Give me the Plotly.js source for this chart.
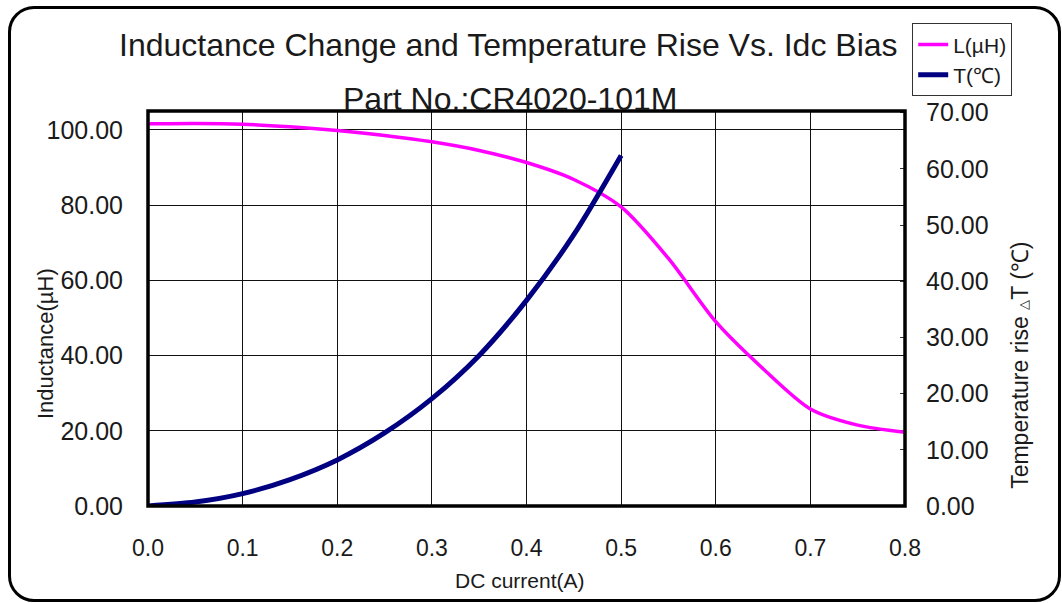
<!DOCTYPE html>
<html>
<head>
<meta charset="utf-8">
<script src="https://cdn.plot.ly/plotly-3.0.1.min.js"></script>
<style>
  html, body { margin: 0; padding: 0; background: #fff; }
  #wrap { position: relative; width: 1062px; height: 603px; overflow: hidden; }
  #frame { position: absolute; left: 8px; top: 6px; width: 1047px; height: 590px;
           border: 3.5px solid #000; border-radius: 26px; box-sizing: content-box; }
  #chart { position: absolute; left: 0; top: 0; width: 1062px; height: 603px; }
</style>
</head>
<body>
<div id="wrap">
  <div id="frame"></div>
  <div id="chart"></div>
</div>
<script>
// Data
const currentL = [0, 0.05, 0.1, 0.15, 0.2, 0.25, 0.3, 0.35, 0.4, 0.45, 0.5, 0.55, 0.6, 0.65, 0.7, 0.75, 0.8];
const inductance = [101.6, 101.7, 101.5, 100.8, 99.8, 98.5, 96.8, 94.5, 91.3, 86.8, 79.5, 65.8, 49.0, 36.5, 25.8, 21.5, 19.6];

const currentT = [0, 0.05, 0.1, 0.15, 0.2, 0.25, 0.3, 0.35, 0.4, 0.45, 0.5];
const tempRise = [0, 0.7, 2.2, 4.7, 8.2, 13.0, 19.1, 26.8, 36.6, 48.3, 62.4];

const xTicks = [0, 0.1, 0.2, 0.3, 0.4, 0.5, 0.6, 0.7, 0.8];
const yLeftTicks = [0, 20, 40, 60, 80, 100];
const yRightTicks = [0, 10, 20, 30, 40, 50, 60, 70];

const FONT = 'Liberation Sans, Arial, sans-serif';
const TXT = '#1a1a1a';

const traces = [
  {
    x: currentL, y: inductance, name: 'L(µH)', type: 'scatter', mode: 'lines',
    line: {color: '#ff00ff', width: 3.5, shape: 'spline', smoothing: 0.8},
    yaxis: 'y', hoverinfo: 'x+y'
  },
  {
    x: currentT, y: tempRise, name: 'T(℃)', type: 'scatter', mode: 'lines',
    line: {color: '#000080', width: 5, shape: 'spline', smoothing: 0.8},
    yaxis: 'y2', hoverinfo: 'x+y'
  }
];

const layout = {
  width: 1062, height: 603,
  margin: {l: 148, r: 157, t: 111, b: 97, pad: 0},
  paper_bgcolor: 'rgba(0,0,0,0)',
  plot_bgcolor: '#fff',
  font: {family: FONT, color: TXT},
  showlegend: true,
  legend: {
    x: 1.0095, y: 1.222, xanchor: 'left', yanchor: 'top',
    bgcolor: '#fff', bordercolor: '#333', borderwidth: 1,
    font: {family: FONT, size: 21, color: TXT},
    tracegroupgap: 0, itemwidth: 30
  },
  xaxis: {
    range: [0, 0.8], tickvals: xTicks, ticktext: xTicks.map(v => v.toFixed(1)),
    showgrid: true, gridcolor: '#111', gridwidth: 1,
    zeroline: false, showline: false, ticks: '',
    tickfont: {family: FONT, size: 23, color: TXT},
    ticklabelstandoff: 26, fixedrange: true
  },
  yaxis: {
    range: [0, 105], tickvals: yLeftTicks, ticktext: yLeftTicks.map(v => v.toFixed(2)),
    showgrid: true, gridcolor: '#111', gridwidth: 1,
    zeroline: false, showline: false, ticks: '',
    tickfont: {family: FONT, size: 25, color: TXT},
    ticklabelstandoff: 24, fixedrange: true
  },
  yaxis2: {
    overlaying: 'y', side: 'right',
    range: [0, 70.3], tickvals: yRightTicks, ticktext: yRightTicks.map(v => v.toFixed(2)),
    showgrid: false, zeroline: false, showline: false,
    ticks: 'inside', ticklen: 5, tickcolor: '#333', tickwidth: 1,
    tickfont: {family: FONT, size: 25, color: TXT},
    ticklabelstandoff: 20, fixedrange: true
  },
  shapes: [
    {type: 'rect', xref: 'paper', yref: 'paper', x0: 0, x1: 1, y0: 0, y1: 1,
     line: {color: '#000', width: 3.5}, fillcolor: 'rgba(0,0,0,0)', layer: 'above'}
  ],
  annotations: [
    {text: 'Inductance Change and Temperature Rise Vs. Idc Bias', xref: 'paper', yref: 'paper',
     x: 0.476, y: 1.1665, xanchor: 'center', yanchor: 'middle', showarrow: false,
     font: {family: FONT, size: 32, color: TXT}},
    {text: 'Part No.:CR4020-101M', xref: 'paper', yref: 'paper',
     x: 0.478, y: 1.030, xanchor: 'center', yanchor: 'middle', showarrow: false,
     font: {family: FONT, size: 32, color: TXT}},
    {text: 'DC current(A)', xref: 'paper', yref: 'paper',
     x: 0.491, y: -0.188, xanchor: 'center', yanchor: 'middle', showarrow: false,
     font: {family: FONT, size: 21, color: TXT}},
    {text: 'Inductance(µH)', xref: 'paper', yref: 'paper', textangle: -90,
     x: -0.136, y: 0.41, xanchor: 'center', yanchor: 'middle', showarrow: false,
     font: {family: FONT, size: 22, color: TXT}},
    {text: 'Temperature rise <span style="font-size:13px">△</span>T (℃)', xref: 'paper', yref: 'paper', textangle: -90,
     x: 1.152, y: 0.355, xanchor: 'center', yanchor: 'middle', showarrow: false,
     font: {family: FONT, size: 23, color: TXT}}
  ]
};

Plotly.newPlot('chart', traces, layout, {displayModeBar: false, staticPlot: true});
</script>
</body>
</html>
